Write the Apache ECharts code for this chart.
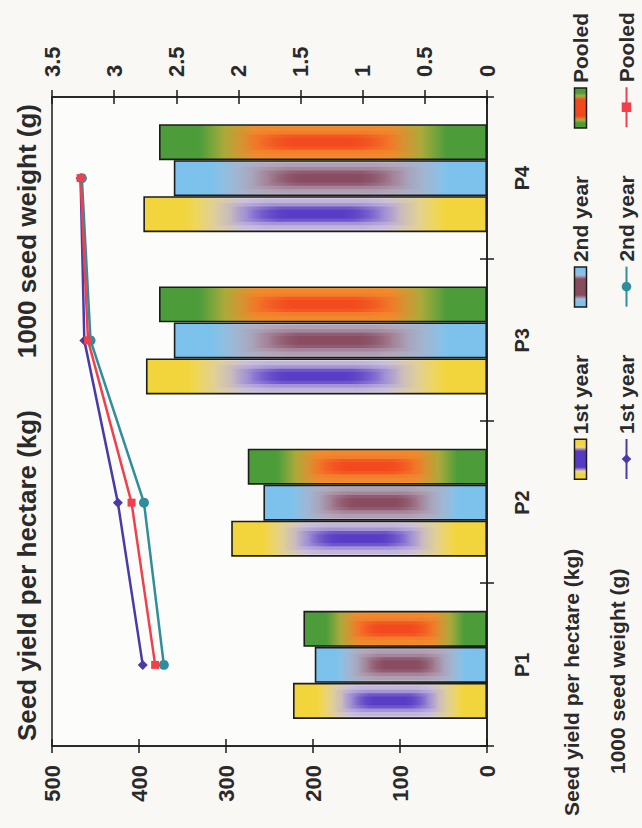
<!DOCTYPE html>
<html><head><meta charset="utf-8">
<script src="https://cdn.jsdelivr.net/npm/echarts@6/dist/echarts.min.js"></script>
<style>
html,body{margin:0;padding:0;width:642px;height:828px;overflow:hidden;background:#f9f8f5;}
#chart{position:absolute;left:0;top:0;width:828px;height:642px;transform-origin:0 0;transform:translate(0,828px) rotate(-90deg);}
</style></head><body><div id="chart"></div>
<script>
// ---- data ----
const categories = ['P1', 'P2', 'P3', 'P4'];
const yield1st = [223, 294, 392, 395];
const yield2nd = [198, 257, 360, 360];
const yieldPooled = [211, 275, 377, 377];
const weight1st = [2.77, 2.97, 3.24, 3.27];
const weight2nd = [2.60, 2.76, 3.19, 3.26];
const weightPooled = [2.67, 2.86, 3.21, 3.27];
const yieldAxis = { min: 0, max: 500, interval: 100 };
const weightAxis = { min: 0, max: 3.5, interval: 0.5 };
const yieldTitle = 'Seed yield per hectare (kg)';
const weightTitle = '1000 seed weight (g)';
const seriesLabels = ['1st year', '2nd year', 'Pooled'];

// ---- styles ----
const FONT = 'Liberation Sans, Arial, sans-serif';
const TXT = '#2a2a2a';
const INK = '#1c1c1c';
const BAR_W = 36;
const LG = echarts.graphic.LinearGradient;

function mainGrad(end, trans, mid, vertical) {
  const stops = [
    { offset: 0, color: end }, { offset: 0.12, color: end },
    { offset: 0.2, color: trans }, { offset: 0.3, color: mid },
    { offset: 0.7, color: mid }, { offset: 0.8, color: trans },
    { offset: 0.88, color: end }, { offset: 1, color: end }
  ];
  return vertical ? new LG(0, 0, 0, 1, stops) : new LG(0, 0, 1, 0, stops);
}
function stripeGrad(rgb, a, from, to) {
  const c0 = 'rgba(' + rgb + ',0)', c1 = 'rgba(' + rgb + ',' + a + ')';
  const ramp = (to - from) * 0.3;
  return new LG(0, 0, 0, 1, [
    { offset: 0, color: c0 }, { offset: from, color: c0 },
    { offset: from + ramp, color: c1 }, { offset: to - ramp, color: c1 },
    { offset: to, color: c0 }, { offset: 1, color: c0 }
  ]);
}
const barPal = [
  { end: '#f2d53c', trans: '#e8d890', mid: '#dcd3e2', wide: '130,110,205', core: '86,58,198' },
  { end: '#7dc2ec', trans: '#a2bcd8', mid: '#bbb8c9', wide: '150,100,125', core: '136,74,94' },
  { end: '#4c9c3a', trans: '#a6ae3c', mid: '#f0922e', wide: '244,112,40', core: '242,72,30' }
];
// stripe layers: [relative width, alpha, start, end] along the bar
const stripeLayers = [[0.86, 0.3, 0.15, 0.85], [0.62, 0.45, 0.2, 0.8], [0.42, 0.7, 0.25, 0.75], [0.24, 0.9, 0.3, 0.7]];
const yieldData = [yield1st, yield2nd, yieldPooled];
const weightData = [weight1st, weight2nd, weightPooled];
const lineColors = ['#4a3aa8', '#2f8e9c', '#f0404c'];
const lineSymbols = ['diamond', 'circle', 'rect'];

const nameMap = {};
const series = [];
seriesLabels.forEach((lab, i) => {
  const n = 'yield ' + lab; nameMap[n] = lab;
  const p = barPal[i];
  series.push({
    name: n, type: 'bar', barWidth: BAR_W, barGap: '0%',
    data: yieldData[i],
    itemStyle: { color: mainGrad(p.end, p.trans, p.mid, true), borderColor: INK, borderWidth: 1.6 },
    z: 2
  });
});
// soft texture inside every bar (same data, positioned by the axes)
seriesLabels.forEach((lab, i) => {
  const p = barPal[i];
  const fills = stripeLayers.map((L, k) => stripeGrad(k < 2 ? p.wide : p.core, L[1], L[2], L[3]));
  series.push({
    type: 'custom', silent: true, z: 3,
    data: yieldData[i].map((v, k) => [k, v]),
    encode: { x: 0, y: 1 },
    renderItem: function (params, api) {
      const base = api.coord([api.value(0), 0]);
      const top = api.coord([api.value(0), api.value(1)]);
      const cx = base[0] + (i - 1) * BAR_W;
      const h = base[1] - top[1];
      return {
        type: 'group',
        children: stripeLayers.map((L, k) => ({
          type: 'rect',
          shape: { x: cx - BAR_W * L[0] / 2, y: top[1], width: BAR_W * L[0], height: h },
          style: { fill: fills[k] }
        }))
      };
    }
  });
});
seriesLabels.forEach((lab, i) => {
  const n = 'weight ' + lab; nameMap[n] = lab;
  series.push({
    name: n, type: 'line', yAxisIndex: 1, data: weightData[i],
    symbol: lineSymbols[i], symbolSize: i === 2 ? 8 : 10,
    lineStyle: { color: lineColors[i], width: 2.5 },
    itemStyle: { color: lineColors[i] },
    z: 6
  });
});

const labelStyle = { color: TXT, fontFamily: FONT, fontWeight: 'bold', fontSize: 22 };
const tickStyle = { color: INK, width: 1.5 };

function valueAxis(pos, rng, showLabel, inside, margin) {
  return {
    type: 'value', position: pos, min: rng.min, max: rng.max, interval: rng.interval,
    axisLine: { show: showLabel, lineStyle: { color: INK, width: 1.5 } },
    axisTick: { show: true, inside: inside, length: 7, lineStyle: tickStyle },
    splitLine: { show: false },
    axisLabel: Object.assign({ show: showLabel, margin: margin }, labelStyle)
  };
}

const legendText = { color: TXT, fontFamily: FONT, fontWeight: 'bold', fontSize: 21 };

const option = {
  backgroundColor: '#f9f8f5',
  animation: false,
  textStyle: { fontFamily: FONT },
  title: [
    { text: yieldTitle, left: 82, top: 9, textStyle: { color: TXT, fontFamily: FONT, fontWeight: 'bold', fontSize: 26 } },
    { text: weightTitle, right: 99, top: 9, textStyle: { color: TXT, fontFamily: FONT, fontWeight: 'bold', fontSize: 26 } }
  ],
  grid: { left: 82, top: 52, width: 649, height: 435, show: true, borderColor: INK, borderWidth: 1.5, backgroundColor: 'rgba(255,255,255,0.55)' },
  xAxis: [
    {
      type: 'category', data: categories, position: 'bottom',
      axisLine: { lineStyle: { color: INK, width: 1.5 } },
      axisTick: { show: true, length: 7, lineStyle: tickStyle },
      axisLabel: { margin: 25, fontSize: 20, color: TXT, fontFamily: FONT, fontWeight: 'bold' }
    },
    {
      type: 'category', data: categories, position: 'bottom',
      axisLine: { show: false },
      axisTick: { show: true, inside: true, length: 7, lineStyle: tickStyle },
      axisLabel: { show: false }
    }
  ],
  yAxis: [
    valueAxis('left', yieldAxis, true, false, 19),
    valueAxis('right', weightAxis, true, false, 20),
    valueAxis('left', yieldAxis, false, true, 0),
    valueAxis('right', weightAxis, false, true, 0)
  ],
  legend: [
    {
      top: 565, left: 343, itemGap: 47, itemWidth: 40, itemHeight: 12, icon: 'rect',
      data: seriesLabels.map((l, i) => ({
        name: 'yield ' + l,
        itemStyle: { color: mainGrad(barPal[i].end, barPal[i].trans, 'rgb(' + barPal[i].core + ')', false), borderColor: INK, borderWidth: 1.5 }
      })),
      formatter: n => nameMap[n],
      textStyle: legendText
    },
    {
      top: 611, left: 343, itemGap: 47, itemWidth: 40, itemHeight: 12,
      data: seriesLabels.map(l => 'weight ' + l),
      formatter: n => nameMap[n],
      textStyle: legendText
    }
  ],
  graphic: [
    { type: 'text', left: 12, top: 561, style: { text: yieldTitle, fill: TXT, font: 'bold 21px ' + FONT } },
    { type: 'text', left: 54, top: 607, style: { text: weightTitle, fill: TXT, font: 'bold 21px ' + FONT } }
  ],
  series: series
};

const chart = echarts.init(document.getElementById('chart'), null, { renderer: 'svg', width: 828, height: 642 });
chart.setOption(option);
</script>
</body></html>
